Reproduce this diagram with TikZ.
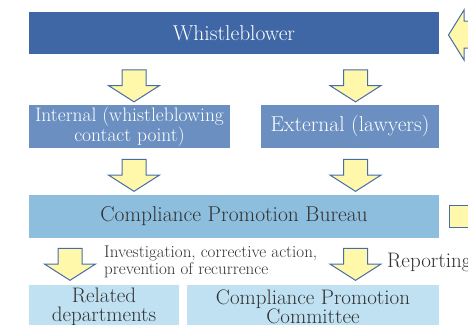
\documentclass[tikz,border=0pt]{standalone}
\usepackage{fontspec}
\usetikzlibrary{shapes.arrows,positioning,calc}
\definecolor{wbblue}{RGB}{63,103,166}
\definecolor{midblue}{RGB}{106,143,192}
\definecolor{bureaublue}{RGB}{141,190,222}
\definecolor{paleblue}{RGB}{192,225,242}
\definecolor{arrowfill}{RGB}{255,247,170}
\definecolor{arrowline}{RGB}{72,108,168}
\definecolor{textgray}{RGB}{50,50,50}

\begin{document}
\begin{tikzpicture}[x = 1pt, y = -1pt,
  box/.style = {inner sep = 0pt, align = center, font = \fontsize{21.5}{18}\selectfont},
  darkbox/.style = {box, fill = wbblue, text = white},
  midbox/.style = {box, fill = midblue, text = white},
  bureaubox/.style = {box, fill = bureaublue, text = textgray},
  palebox/.style = {box, fill = paleblue, text = textgray, font = \fontsize{21}{19}\selectfont},
  downarrow/.style = {single arrow, draw = arrowline, fill = arrowfill, line width = 1pt,
    minimum height = 32pt, inner xsep = 0pt, inner ysep = 11.5pt, single arrow head extend = 13.5pt,
    single arrow tip angle = 115, rotate = -90}]
\clip (0,0) rectangle (468,324);
% boxes
\node[darkbox, minimum width = 410pt, minimum height = 42pt] (wb) at (234,33) {Whistleblower};
\node[midbox, minimum width = 201pt, minimum height = 43pt, font = \fontsize{19.5}{17.5}\selectfont] (int) at (129.5,126.5) {Internal (whistleblowing\\contact point)};
\node[midbox, minimum width = 178pt, minimum height = 43pt] (ext) at (350,126.5) {External (lawyers)};
\node[bureaubox, minimum width = 410pt, minimum height = 43pt] (cpb) at (234,216.5) {Compliance Promotion Bureau};
\node[palebox, minimum width = 150pt, minimum height = 43pt] (rel) at (104,306.5) {Related\\departments};
\node[palebox, minimum width = 252pt, minimum height = 43pt] (cpc) at (313,306.5) {Compliance Promotion\\Committee};
% block arrows
\node[downarrow] (a1) at (134,82) {};
\node[downarrow] (a2) at (355.5,82) {};
\node[downarrow] (a3) at (134,171.5) {};
\node[downarrow] (a4) at (355.5,171.5) {};
\node[downarrow] (a5) at (70,260.5) {};
\node[downarrow] (a6) at (355.5,260.5) {};
% labels
\node[anchor = north west, inner sep = 0pt, align = left, text = textgray,
  font = \fontsize{17}{15}\selectfont] (inv) at (104,246) {Investigation, corrective action,\\prevention of recurrence};
\node[anchor = base west, inner sep = 0pt, text = textgray,
  font = \fontsize{21}{18}\selectfont] (rep) at (387,267) {Reporting};
% pieces at the right edge
\draw[arrowline, fill = arrowfill, line width = 1pt]
  (480,21) -- (464,21) -- (464,10) -- (448.5,35) -- (464,60) -- (464,48) -- (480,48);
\draw[arrowline, fill = arrowfill, line width = 1pt] (480,205) -- (449,205) -- (449,227) -- (480,227);
\end{tikzpicture}
\end{document}
